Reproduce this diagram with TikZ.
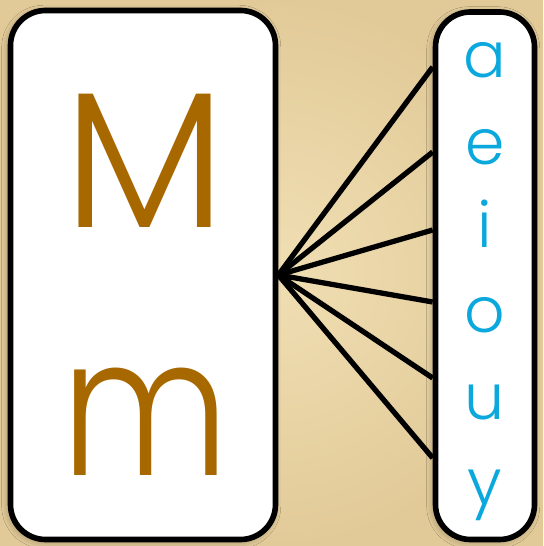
\documentclass[tikz,border=0pt]{standalone}
\usepackage{fontspec}
\setmainfont{Poppins Light}
\usepackage{xcolor}
\usetikzlibrary{shadows.blur}
\definecolor{parch}{RGB}{240,223,180}
\definecolor{parchdark}{RGB}{226,202,152}
\definecolor{caseorange}{RGB}{168,104,0}
\definecolor{vowelblue}{RGB}{10,168,220}

\begin{document}
\begin{tikzpicture}[scale=1.0,
  card/.style={draw, line width=3.2pt, fill=white, rounded corners=0.7cm, inner sep=0pt,
    blur shadow={shadow xshift=-1pt, shadow yshift=-1pt, shadow blur radius=4pt, shadow opacity=35}},
  big/.style={text=caseorange, font=\fontsize{110}{110}\selectfont, anchor=base, inner sep=0pt},
  vowel/.style={text=vowelblue, font=\fontsize{36}{36}\selectfont, anchor=base, inner sep=0pt}]
  % Background
  \shade[inner color=parch, outer color=parchdark] (0,0) rectangle (10.86,10.92);
  \useasboundingbox (0,0) rectangle (10.86,10.92);
  % Cards
  \node[card, minimum width=5.3cm, minimum height=10.58cm] (cases) at (2.86,5.42) {};
  \node[card, minimum width=1.98cm, minimum height=10.55cm] (vowels) at (9.7,5.405) {};
  % Letters
  \node[big] (upper) at (2.9,6.36) {M};
  \node[big, xscale=0.85, transform shape] (lower) at (2.9,1.4) {m};
  \foreach \v/\b/\e in {a/9.36/9.58, e/7.62/7.88, i/5.96/6.32, o/4.26/4.88, u/2.52/3.36, y/0.82/1.76}{
    \node[vowel] (v-\v) at (9.7,\b) {\v};
    \coordinate (end-\v) at (vowels.west |- 0,\e);
  }
  % Spokes
  \foreach \v in {a,e,i,o,u,y}
    \draw[line width=3pt] (cases.east) -- (end-\v);
\end{tikzpicture}
\end{document}
